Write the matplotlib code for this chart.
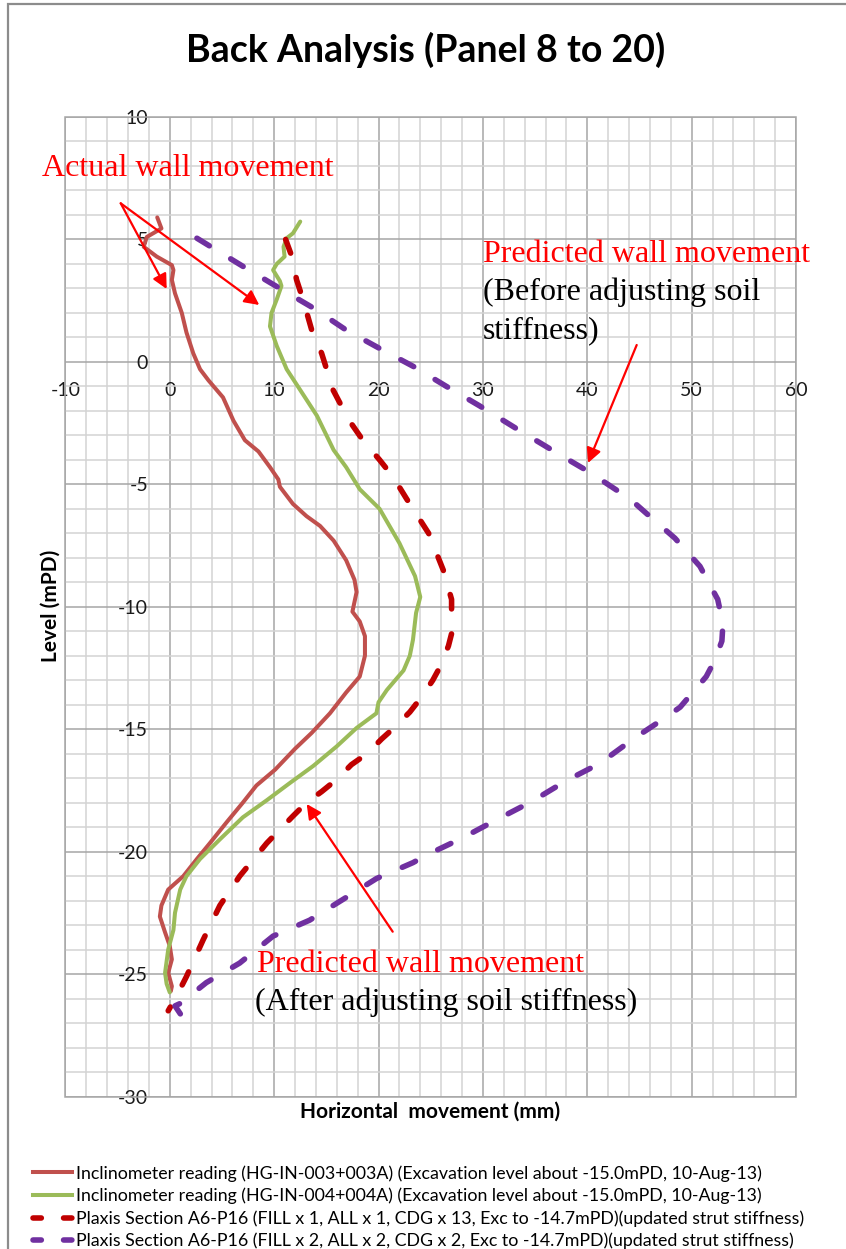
import matplotlib
matplotlib.use("Agg")
import matplotlib.pyplot as plt
from matplotlib.lines import Line2D
from matplotlib.patches import Rectangle
from matplotlib.ticker import MultipleLocator

plt.rcParams['lines.scale_dashes'] = False
plt.rcParams['axes.unicode_minus'] = False
plt.rcParams['font.family'] = ['Lato', 'DejaVu Sans']

# Inclinometer HG-IN-003+003A: horizontal movement (mm) vs level (mPD)
in003_x = [-1.2, -0.8, -2.2, -2.5, -1.25, 0.2, 0.35, 0.2, 0.5, 1.15, 1.6, 2.25, 2.9,
           3.7, 4.4, 5.1, 6.1, 7.2, 8.5, 9.6, 10.4, 10.55, 11.8, 13.1, 14.4, 15.7,
           16.9, 17.7, 17.9, 17.6, 17.5, 18.2, 18.7, 18.7, 18.2, 16.9, 15.35, 13.6,
           12.0, 10.1, 8.3, 7.0, 5.45, 3.85, 2.6, 1.3, -0.15, -0.8, -0.95, -0.45,
           0.0, 0.2, -0.15, 0.2, 0.1]
in003_y = [5.9, 5.45, 5.1, 4.7, 4.3, 3.95, 3.75, 3.35, 2.8, 2.0, 1.2, 0.35, -0.3,
           -0.75, -1.1, -1.45, -2.4, -3.2, -3.66, -4.3, -4.8, -5.1, -5.8, -6.3, -6.7,
           -7.3, -8.1, -8.9, -9.4, -10.0, -10.2, -10.6, -11.2, -12.0, -12.85, -13.5,
           -14.35, -15.15, -15.8, -16.65, -17.3, -18.0, -18.8, -19.65, -20.3, -21.0,
           -21.55, -22.2, -22.65, -23.3, -23.85, -24.4, -24.95, -25.5, -25.7]

# Inclinometer HG-IN-004+004A
in004_x = [12.5, 11.8, 11.2, 10.9, 11.0, 10.25, 9.9, 10.55, 10.7, 10.25, 9.75, 9.6,
           10.25, 11.2, 12.5, 14.1, 15.7, 16.9, 18.2, 20.1, 22.0, 23.5, 24.0, 23.6,
           23.3, 23.0, 22.4, 20.8, 20.0, 19.8, 17.9, 16.0, 13.75, 11.5, 9.3, 7.0,
           4.8, 2.9, 1.6, 1.0, 0.5, 0.35, -0.15, -0.45, -0.3, 0.0]
in004_y = [5.73, 5.25, 5.05, 4.7, 4.3, 4.0, 3.75, 3.3, 3.1, 2.55, 2.0, 1.45, 0.65,
           -0.3, -1.15, -2.2, -3.6, -4.3, -5.2, -6.0, -7.4, -8.75, -9.6, -10.25,
           -11.35, -12.0, -12.6, -13.4, -13.9, -14.35, -14.95, -15.7, -16.5, -17.2,
           -17.9, -18.6, -19.5, -20.3, -21.0, -21.55, -22.5, -23.2, -24.0, -24.95,
           -25.4, -25.75]

# Plaxis A6-P16, soil stiffness adjusted (FILL x1, ALL x1, CDG x13)
plaxis1_x = [11.1, 11.7, 12.15, 12.8, 13.6, 14.55, 15.65, 16.45, 17.2, 18.5, 20.1,
             21.4, 22.7, 24.8, 26.2, 27.0, 27.0, 26.7, 25.9, 25.2, 24.1, 23.0, 21.6,
             20.3, 18.9, 17.4, 16.0, 14.55, 13.1, 11.8, 9.3, 6.7, 4.8, 3.2, 1.6,
             0.65, -0.15]
plaxis1_y = [5.0, 4.3, 3.35, 2.5, 1.3, 0.35, -1.15, -1.8, -2.4, -3.2, -4.0, -4.7,
             -5.6, -7.0, -8.5, -9.7, -11.1, -11.6, -12.45, -13.0, -13.7, -14.3,
             -14.9, -15.4, -16.0, -16.45, -17.05, -17.55, -18.0, -18.55, -19.65,
             -21.0, -22.2, -23.6, -25.1, -25.9, -26.5]

# Plaxis A6-P16, original stiffness (FILL x2, ALL x2, CDG x2)
plaxis2_x = [2.6, 7.4, 10.55, 13.75, 16.9, 20.1, 23.4, 26.5, 29.7, 33.5, 37.4, 40.2,
             44.1, 45.7, 48.4, 50.8, 52.5, 53.0, 52.9, 52.2, 51.4, 50.1, 48.9, 47.4,
             44.4, 41.2, 38.0, 34.7, 31.3, 28.0, 24.8, 23.3, 19.8, 16.6, 13.4, 9.9,
             6.7, 3.5, 1.0, 0.5, 1.6]
plaxis2_y = [5.05, 3.8, 3.0, 2.2, 1.3, 0.55, -0.2, -1.0, -1.8, -2.8, -3.8, -4.5,
             -5.6, -6.2, -7.2, -8.35, -9.7, -10.7, -11.4, -12.2, -12.85, -13.5,
             -14.1, -14.55, -15.4, -16.4, -17.1, -17.95, -18.7, -19.45, -20.1,
             -20.45, -21.1, -21.95, -22.8, -23.45, -24.55, -25.35, -26.2, -26.3,
             -27.0]

series_labels = [
    "Inclinometer reading (HG-IN-003+003A) (Excavation level about -15.0mPD, 10-Aug-13)",
    "Inclinometer reading (HG-IN-004+004A) (Excavation level about -15.0mPD, 10-Aug-13)",
    "Plaxis Section A6-P16 (FILL x 1, ALL x 1, CDG x 13, Exc to -14.7mPD)(updated strut stiffness)",
    "Plaxis Section A6-P16 (FILL x 2, ALL x 2, CDG x 2, Exc to -14.7mPD)(updated strut stiffness)",
]
series_colors = ["#C0504D", "#9BBB59", "#C00000", "#7030A0"]

W, H = 846, 1249


def fpx(x, y):
    # pixel position (from top-left) -> figure fraction
    return x / W, 1 - y / H


fig = plt.figure(figsize=(W / 100, H / 100), dpi=100)
fig.add_artist(Rectangle((8, -20), W + 20, H - 4 + 20, transform=None,
                         fill=False, edgecolor="#8C8C8C", lw=1.6))

left, top, right, bottom = 65.4, 117, 796, 1096.5
ax = fig.add_axes([left / W, 1 - bottom / H, (right - left) / W, (bottom - top) / H])

dash = (0, (10.5, 18))
ax.plot(in003_x, in003_y, color=series_colors[0], lw=2.9,
        solid_capstyle="round", solid_joinstyle="round")
ax.plot(in004_x, in004_y, color=series_colors[1], lw=2.9,
        solid_capstyle="round", solid_joinstyle="round")
ax.plot(plaxis1_x, plaxis1_y, color=series_colors[2], lw=4, ls=dash,
        dash_capstyle="round", dash_joinstyle="round")
ax.plot(plaxis2_x, plaxis2_y, color=series_colors[3], lw=4, ls=dash,
        dash_capstyle="round", dash_joinstyle="round")

ax.set_xlim(-10, 60)
ax.set_ylim(-30, 10)
ax.xaxis.set_major_locator(MultipleLocator(10))
ax.xaxis.set_minor_locator(MultipleLocator(2))
ax.yaxis.set_major_locator(MultipleLocator(5))
ax.yaxis.set_minor_locator(MultipleLocator(1))
ax.grid(which="major", color="#A6A6A6", lw=1.1)
ax.grid(which="minor", color="#D3D3D3", lw=1.1)
ax.set_axisbelow(True)
for s in ax.spines.values():
    s.set_visible(False)
ax.spines["left"].set_position(("data", 0))
ax.spines["bottom"].set_position(("data", 0))
ax.tick_params(which="both", length=0, labelsize=14, labelcolor="#1a1a1a")
ax.tick_params(axis="y", pad=15.5)
ax.tick_params(axis="x", pad=14.5)
ax.add_patch(Rectangle((0, 0), 1, 1, transform=ax.transAxes, fill=False,
                       edgecolor="#A6A6A6", lw=1.1, clip_on=False))

fig.text(*fpx(426, 62), "Back Analysis (Panel 8 to 20)", ha="center", va="baseline",
         fontsize=27, fontweight="bold")
fig.text(*fpx(430, 1112), "Horizontal  movement (mm)", ha="center", va="center",
         fontsize=15, fontweight="bold")
fig.text(*fpx(51, 606), "Level (mPD)", ha="center", va="center", rotation=90,
         fontsize=15, fontweight="bold")

# callouts
serif = ["Liberation Serif", "DejaVu Serif"]
fig.text(*fpx(42, 176), "Actual wall movement", color="red", fontsize=23,
         family=serif, va="baseline")
fig.text(*fpx(483, 262), "Predicted wall movement", color="red", fontsize=23,
         family=serif, va="baseline")
fig.text(*fpx(483, 300), "(Before adjusting soil", color="black", fontsize=23,
         family=serif, va="baseline")
fig.text(*fpx(483, 338), "stiffness)", color="black", fontsize=23,
         family=serif, va="baseline")
fig.text(*fpx(257, 972), "Predicted wall movement", color="red", fontsize=23,
         family=serif, va="baseline")
fig.text(*fpx(255, 1010), "(After adjusting soil stiffness)", color="black",
         fontsize=23, family=serif, va="baseline")

arrows = [((120.7, 203.3), (166.7, 289)),
          ((120.7, 203.3), (259.3, 305)),
          ((636.7, 345), (588, 463)),
          ((392.7, 931.7), (306.7, 804))]
for (sx, sy), (tx, ty) in arrows:
    ax.annotate("", xy=(tx, H - ty), xytext=(sx, H - sy),
                xycoords="figure pixels", textcoords="figure pixels",
                arrowprops=dict(arrowstyle="-|>", color="red", lw=1.6,
                                mutation_scale=22, shrinkA=0, shrinkB=0))

# legend below the chart
fs = 12.8
fs_px = fs * 100 / 72
handles = [
    Line2D([], [], color=series_colors[0], lw=2.9),
    Line2D([], [], color=series_colors[1], lw=2.9),
    Line2D([], [], color=series_colors[2], lw=4, ls=(0, (6, 16)), dash_capstyle="round"),
    Line2D([], [], color=series_colors[3], lw=4, ls=(0, (6, 16)), dash_capstyle="round"),
]
ax.legend(handles, series_labels, loc="upper left",
          bbox_to_anchor=fpx(33, 1165), bbox_transform=fig.transFigure,
          frameon=False, borderpad=0, borderaxespad=0,
          handlelength=39 / fs_px, handletextpad=4 / fs_px,
          labelspacing=0.34, prop={"size": fs})

fig.savefig("out.png", dpi=100)
